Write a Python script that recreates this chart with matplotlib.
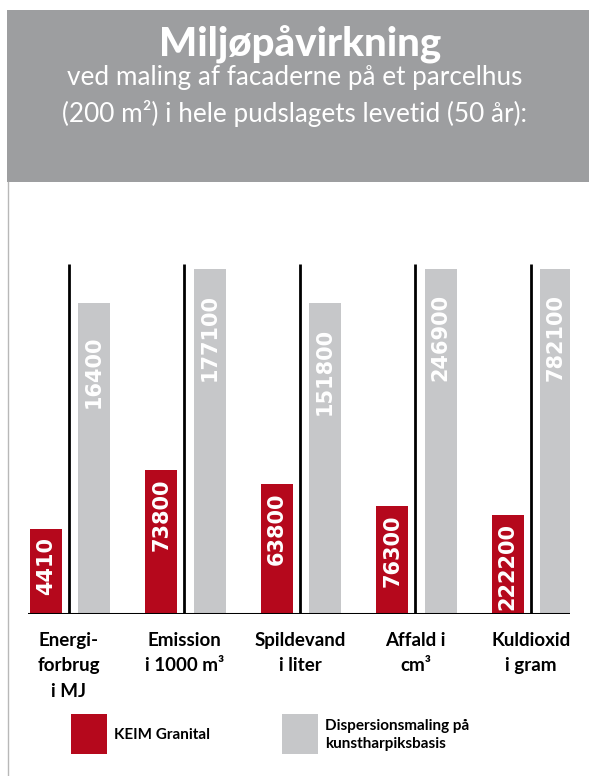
import matplotlib.pyplot as plt
from matplotlib.patches import Rectangle
from matplotlib.lines import Line2D

categories = ['Energi-\nforbrug\ni MJ', 'Emission\ni 1000 m³', 'Spildevand\ni liter',
              'Affald i\ncm³', 'Kuldioxid\ni gram']
keim_values = [4410, 73800, 63800, 76300, 222200]
disp_values = [16400, 177100, 151800, 246900, 782100]
# bar heights as drawn (gray bars stylised, red bars to scale within each group)
keim_heights = [24.6, 41.7, 37.7, 31.3, 28.7]
disp_heights = [90, 100, 90, 100, 100]
series_names = ['KEIM Granital', 'Dispersionsmaling på\nkunstharpiksbasis']

RED = '#b5081c'
LIGHT = '#c6c7c9'
HEADER = '#9d9ea0'
FONT = ['Lato', 'DejaVu Sans']

plt.rcParams['font.family'] = FONT

W, H = 589, 776
fig = plt.figure(figsize=(W / 100, H / 100), dpi=100)

def fx(px):
    return px / W

def fy(py):
    return 1 - py / H

# header box
fig.add_artist(Rectangle((fx(7), fy(182)), fx(582), 172 / H, color=HEADER, lw=0))
fig.add_artist(Line2D([fx(7.5), fx(7.5)], [fy(182), 0], color='#b8b8b8', lw=1))
fig.text(fx(300), fy(44), 'Miljøpåvirkning', ha='center', va='center',
         fontsize=29, fontweight='black', color='white')
fig.text(fx(295), fy(96), 'ved maling af facaderne på et parcelhus\n(200 m²) i hele pudslagets levetid (50 år):',
         ha='center', va='center', fontsize=18.8, color='white', linespacing=1.45)

# plot area: baseline at y=614 px, axes from x=28 to 570
ax = fig.add_axes([fx(28), fy(614), fx(542), (614 - 240) / H])
ax.set_xlim(-0.355, 4.338)
ax.set_ylim(0, 108.4)
ax.axis('off')

x = list(range(len(categories)))
bw = 0.277
ax.bar([i - 0.2 for i in x], keim_heights, width=bw, color=RED, lw=0)
ax.bar([i + 0.217 for i in x], disp_heights, width=bw, color=LIGHT, lw=0)
ax.vlines(x, 0, 101.5, color='black', lw=2)
ax.axhline(0, color='black', lw=2.2)

for i in x:
    ax.annotate(str(keim_values[i]), (i - 0.2, keim_heights[i]), xytext=(0, -6),
                textcoords='offset points', rotation=90, ha='center', va='top',
                fontsize=15, fontweight='bold', family='DejaVu Sans', color='white')
    ax.annotate(str(disp_values[i]), (i + 0.217, disp_heights[i]), xytext=(0, -49),
                textcoords='offset points', rotation=90, ha='center', va='center',
                fontsize=15, fontweight='bold', family='DejaVu Sans', color='white')
    ax.annotate(categories[i], (i, 0), xytext=(0, -13), textcoords='offset points',
                ha='center', va='top', fontsize=13.5, fontweight='bold', color='black',
                linespacing=1.6, annotation_clip=False)

# legend
for (px, name, col) in [(71, series_names[0], RED), (282, series_names[1], LIGHT)]:
    fig.add_artist(Rectangle((fx(px), fy(754)), fx(36), 40 / H, color=col, lw=0))
    fig.text(fx(px + 43), fy(735), name, ha='left', va='center', fontsize=11,
             fontweight='bold', color='black', linespacing=1.3)

fig.savefig('out.png', dpi=100, facecolor='white')
